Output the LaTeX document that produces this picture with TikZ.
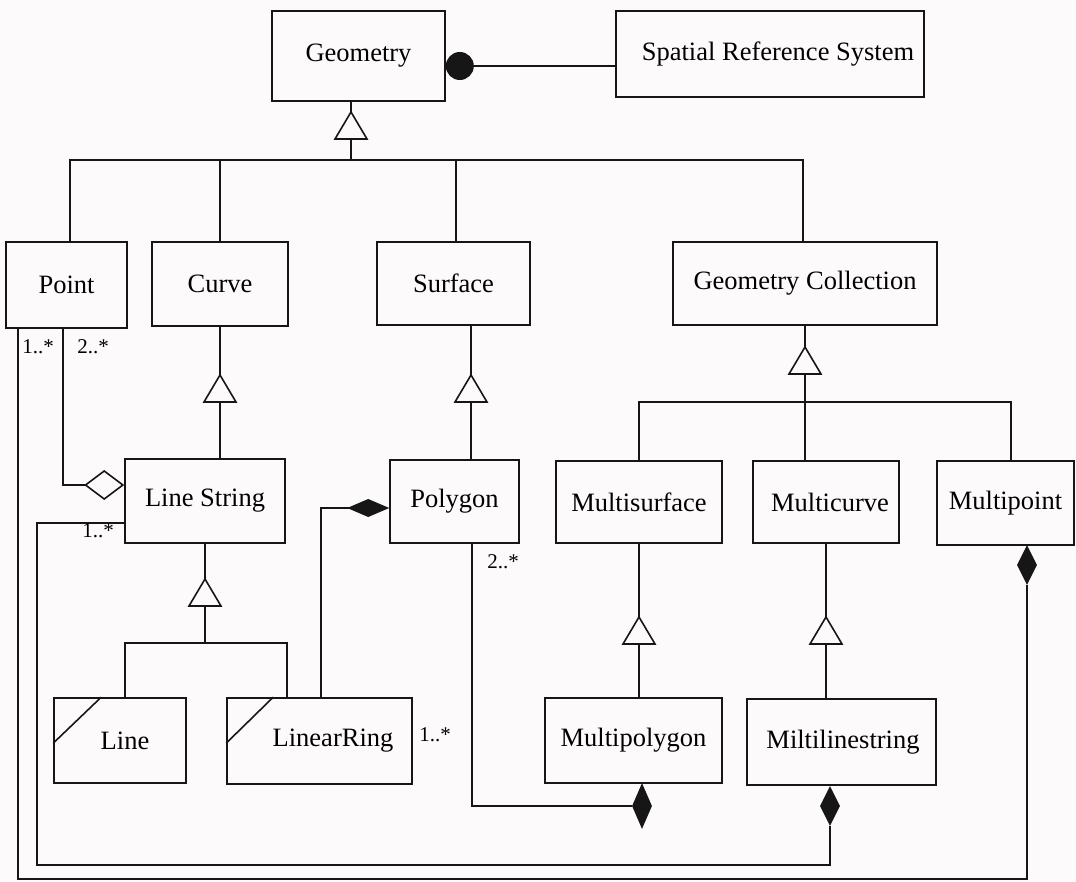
\documentclass[tikz,border=0pt]{standalone}
\usepackage{fontspec}
\setmainfont{Liberation Serif}
\usetikzlibrary{arrows.meta,shapes.geometric}
\definecolor{paper}{RGB}{253,250,251}
\definecolor{ink}{RGB}{22,22,22}
\begin{document}
\begin{tikzpicture}[x=1pt,y=-1pt,
  cls/.style={draw=ink,line width=1.6pt,fill=paper,inner sep=0pt,
              font=\fontsize{26.5}{30}\selectfont},
  wire/.style={draw=ink,line width=1.6pt},
  mult/.style={inner sep=0pt,font=\fontsize{21}{24}\selectfont},
  blackdia/.style={diamond,fill=ink,draw=none,inner sep=0pt,
                   minimum width=20pt,minimum height=#1},
  gentri/.pic={\draw[ink,line width=1.6pt,fill=paper,line join=miter]
               (0,0) -- (-16,27) -- (16,27) -- cycle;}
]
\fill[paper] (0,0) rectangle (1076,882);
\useasboundingbox (0,0) rectangle (1076,882);

% ---- classes ----
\node[cls,minimum width=173pt,minimum height=90pt] (geom) at (358.5,56) {Geometry};
\node[cls,minimum width=308pt,minimum height=86pt] (srs) at (770,54) {\hspace*{16pt}Spatial Reference System};

\node[cls,minimum width=121pt,minimum height=86pt] (point) at (66.5,285) {Point};
\node[cls,minimum width=136pt,minimum height=84pt] (curve) at (220,284) {Curve};
\node[cls,minimum width=153pt,minimum height=83pt] (surface) at (453.5,283.5) {Surface};
\node[cls,minimum width=264pt,minimum height=83pt] (gcoll) at (805,283.5) {Geometry Collection};

\node[cls,minimum width=160pt,minimum height=84pt] (lstring) at (205,501) {Line String};
\node[cls,minimum width=129pt,minimum height=83pt] (polygon) at (454.5,501.5) {Polygon};
\node[cls,minimum width=166pt,minimum height=82pt] (msurf) at (639,502) {Multisurface};
\node[cls,minimum width=146pt,minimum height=82pt] (mcurve) at (826,502) {\hspace*{8pt}Multicurve};
\node[cls,minimum width=137pt,minimum height=84pt] (mpoint) at (1005.5,503) {Multipoint};

\node[cls,minimum width=132pt,minimum height=85pt] (line) at (120,740.5) {\hspace*{10pt}Line};
\node[cls,minimum width=185pt,minimum height=86pt] (lring) at (319.5,741) {\hspace*{27pt}LinearRing};
\node[cls,minimum width=177pt,minimum height=85pt] (mpoly) at (633.5,740.5) {Multipolygon};
\node[cls,minimum width=189pt,minimum height=86pt] (mline) at (841.5,742) {\hspace*{3pt}Miltilinestring};

% corner marks of the two specialised curves
\draw[wire] ([yshift=-46pt]line.north west) -- ([xshift=48pt]line.north west);
\draw[wire] ([yshift=-46pt]lring.north west) -- ([xshift=47pt]lring.north west);

% ---- bend points ----
\coordinate (gstem) at (351,160);
\coordinate (busL) at (70,160);
\coordinate (busR) at (803,160);
\coordinate (sx) at (471,0);
\coordinate (b2L) at (639,402);
\coordinate (b2R) at (1011,402);
\coordinate (b3L) at (125,643);
\coordinate (b3R) at (287,643);
\coordinate (pa) at (63,485);
\coordinate (pl) at (18,879);
\coordinate (pr) at (1027,879);
\coordinate (lt) at (37,523);
\coordinate (ll) at (37,865);
\coordinate (pp) at (472,806);
\coordinate (lr) at (321,508);
\coordinate (gc) at ([yshift=-10pt]geom.east);

% ---- generalisation ----
\draw[wire] (geom.south -| gstem) -- (gstem);
\draw[wire] (point.north -| busL) -- (busL) -- (busR) -- (gcoll.north -| busR);
\draw[wire] (curve.north) -- (curve.north |- busL);
\draw[wire] (surface.north -| 456,0) -- (456,160);
\draw[wire] (curve.south) -- (curve.south |- lstring.north);
\draw[wire] (surface.south -| sx) -- (polygon.north -| sx);
\draw[wire] (gcoll.south) -- (mcurve.north -| gcoll.south);
\draw[wire] (msurf.north) -- (b2L) -- (b2R) -- (mpoint.north -| b2R);
\draw[wire] (lstring.south) -- (lstring.south |- b3L);
\draw[wire] (line.north -| b3L) -- (b3L) -- (b3R) -- (lring.north -| b3R);
\draw[wire] (msurf.south) -- (mpoly.north -| msurf.south);
\draw[wire] (mcurve.south) -- (mline.north -| mcurve.south);

\pic at (351,112) {gentri};
\pic at (220,375) {gentri};
\pic at (471,375) {gentri};
\pic at (805,347) {gentri};
\pic at (205,579) {gentri};
\pic at (639,617) {gentri};
\pic at (826,617) {gentri};

% ---- Geometry -- Spatial Reference System ----
\draw[wire,{Circle[length=28pt]}-] (gc) -- (gc -| srs.west);

% ---- Point aggregated by Line String ----
\draw[wire,{Diamond[open,length=40pt,width=30pt]}-] (lstring.west |- pa) -- (pa) -- (point.south -| pa);
\node[mult] (m1) at (38,347) {1..*};
\node[mult] (m2) at (93,347) {2..*};

% ---- Point composed into Multipoint ----
\node[blackdia=40pt] (dpt) at (1027,565) {};
\draw[wire] (point.south -| pl) -- (pl) -- (pr) -- (dpt.south);

% ---- Line String composed into Miltilinestring ----
\node[blackdia=40pt] (dml) at (830,806) {};
\draw[wire] (lstring.west |- lt) -- (lt) -- (ll) -- (ll -| dml) -- (dml.south);
\node[mult] (m3) at (98,531) {1..*};

% ---- Polygon composed into Multipolygon ----
\node[blackdia=46pt] (dmp) at (642,806) {};
\draw[wire] (polygon.south -| pp) -- (pp) -- (dmp.west);
\node[mult] (m4) at (503,562) {2..*};

% ---- LinearRing composed into Polygon ----
\draw[wire,{Diamond[length=42pt,width=18pt]}-] (polygon.west |- lr) -- (lr) -- (lring.north -| lr);
\node[mult] (m5) at (435,735) {1..*};
\end{tikzpicture}
\end{document}
